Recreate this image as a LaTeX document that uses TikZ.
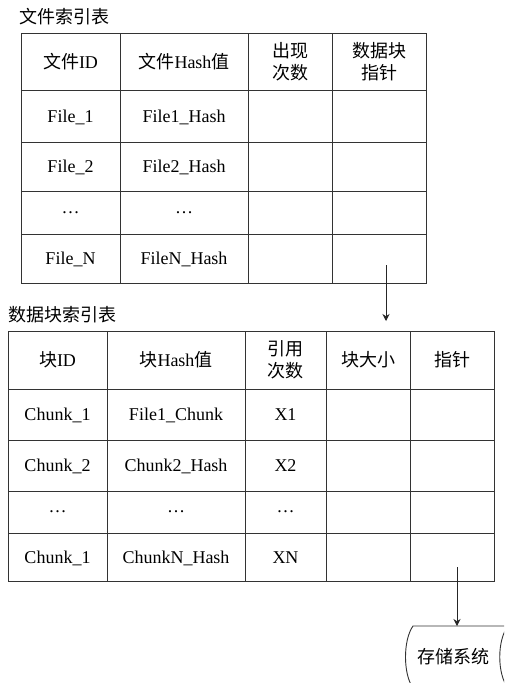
\documentclass[tikz,border=0pt]{standalone}
\usepackage{fontspec}
\setmainfont{Liberation Serif}
\newfontfamily\cjk{Noto Sans CJK SC}
\usetikzlibrary{arrows.meta}
\begin{document}
\begin{tikzpicture}[x=1pt,y=-1pt,
  grid/.style={draw=black!80,line width=0.9pt},
  cell/.style={font=\fontsize{18}{22}\selectfont, inner sep=0pt, align=center, text height=12.5pt, text depth=0pt},
  hcell/.style={font=\fontsize{18}{22}\selectfont, inner sep=0pt, align=center},
  dots/.style={font=\fontsize{18}{22}\selectfont, inner sep=0pt},
  ttl/.style={font=\fontsize{18}{22}\selectfont\cjk, inner sep=0pt, anchor=west},
  arr/.style={line width=0.8pt, draw=black!85, -{Stealth[length=7pt,width=7pt]}}]
\useasboundingbox (0,0) rectangle (504,683);
\clip (0,0) rectangle (504,683);
\fill[white] (0,0) rectangle (504,683);

% ---------- top table ----------
\node[ttl] (t1) at (19,17) {文件索引表};
\draw[grid] (21,33) rectangle (426,283);
\foreach \x in {120,248,332} \draw[grid] (\x,33) -- (\x,283);
\foreach \y in {90,142,191,234} \draw[grid] (21,\y) -- (426,\y);

\node[hcell] (a11) at (70.5,61.5) {{\cjk 文件}ID};
\node[hcell] (a12) at (184,61.5) {{\cjk 文件}Hash{\cjk 值}};
\node[hcell,font=\fontsize{18}{22}\selectfont\cjk] (a13) at (290,61.5) {出现\\次数};
\node[hcell,font=\fontsize{18}{22}\selectfont\cjk] (a14) at (379,61.5) {数据块\\指针};
\node[cell] (a21) at (70.5,116) {File\_1};
\node[cell] (a22) at (184,116) {File1\_Hash};
\node[cell] (a31) at (70.5,166.5) {File\_2};
\node[cell] (a32) at (184,166.5) {File2\_Hash};
\node[dots] (a41) at (70.5,212.5) {…};
\node[dots] (a42) at (184,212.5) {…};
\node[cell] (a51) at (70.5,258.5) {File\_N};
\node[cell] (a52) at (184,258.5) {FileN\_Hash};

% ---------- bottom table ----------
\node[ttl] (t2) at (8,315) {数据块索引表};
\draw[grid] (8,331) rectangle (494,581);
\foreach \x in {107,245,326,410} \draw[grid] (\x,331) -- (\x,581);
\foreach \y in {389,440,491,533} \draw[grid] (8,\y) -- (494,\y);

\node[hcell] (b11) at (57.5,360) {{\cjk 块}ID};
\node[hcell] (b12) at (176,360) {{\cjk 块}Hash{\cjk 值}};
\node[hcell,font=\fontsize{18}{22}\selectfont\cjk] (b13) at (285.5,360) {引用\\次数};
\node[hcell,font=\fontsize{18}{22}\selectfont\cjk] (b14) at (368,360) {块大小};
\node[hcell,font=\fontsize{18}{22}\selectfont\cjk] (b15) at (452,360) {指针};
\node[cell] (b21) at (57.5,414.5) {Chunk\_1};
\node[cell] (b22) at (176,414.5) {File1\_Chunk};
\node[cell] (b23) at (285.5,414.5) {X1};
\node[cell] (b31) at (57.5,465.5) {Chunk\_2};
\node[cell] (b32) at (176,465.5) {Chunk2\_Hash};
\node[cell] (b33) at (285.5,465.5) {X2};
\node[dots] (b41) at (57.5,512) {…};
\node[dots] (b42) at (176,512) {…};
\node[dots] (b43) at (285.5,512) {…};
\node[cell] (b51) at (57.5,557) {Chunk\_1};
\node[cell] (b52) at (176,557) {ChunkN\_Hash};
\node[cell] (b53) at (285.5,557) {XN};

% ---------- storage ----------
\draw[grid] (508,626) -- (413,626)
  .. controls (403,640) and (403,674) .. (413,688) -- (508,688);
\draw[grid] (508,626) .. controls (497,640) and (497,674) .. (508,688);
\node[font=\fontsize{18}{22}\selectfont\cjk, inner sep=0pt] (store) at (453,657) {存储系统};

% ---------- arrows ----------
\coordinate (s1) at (386,265);
\coordinate (e1) at (386,321);
\coordinate (s2) at (457,567);
\coordinate (e2) at (457,626);
\draw[arr] (s1) -- (e1);
\draw[arr] (s2) -- (e2);
\end{tikzpicture}
\end{document}
